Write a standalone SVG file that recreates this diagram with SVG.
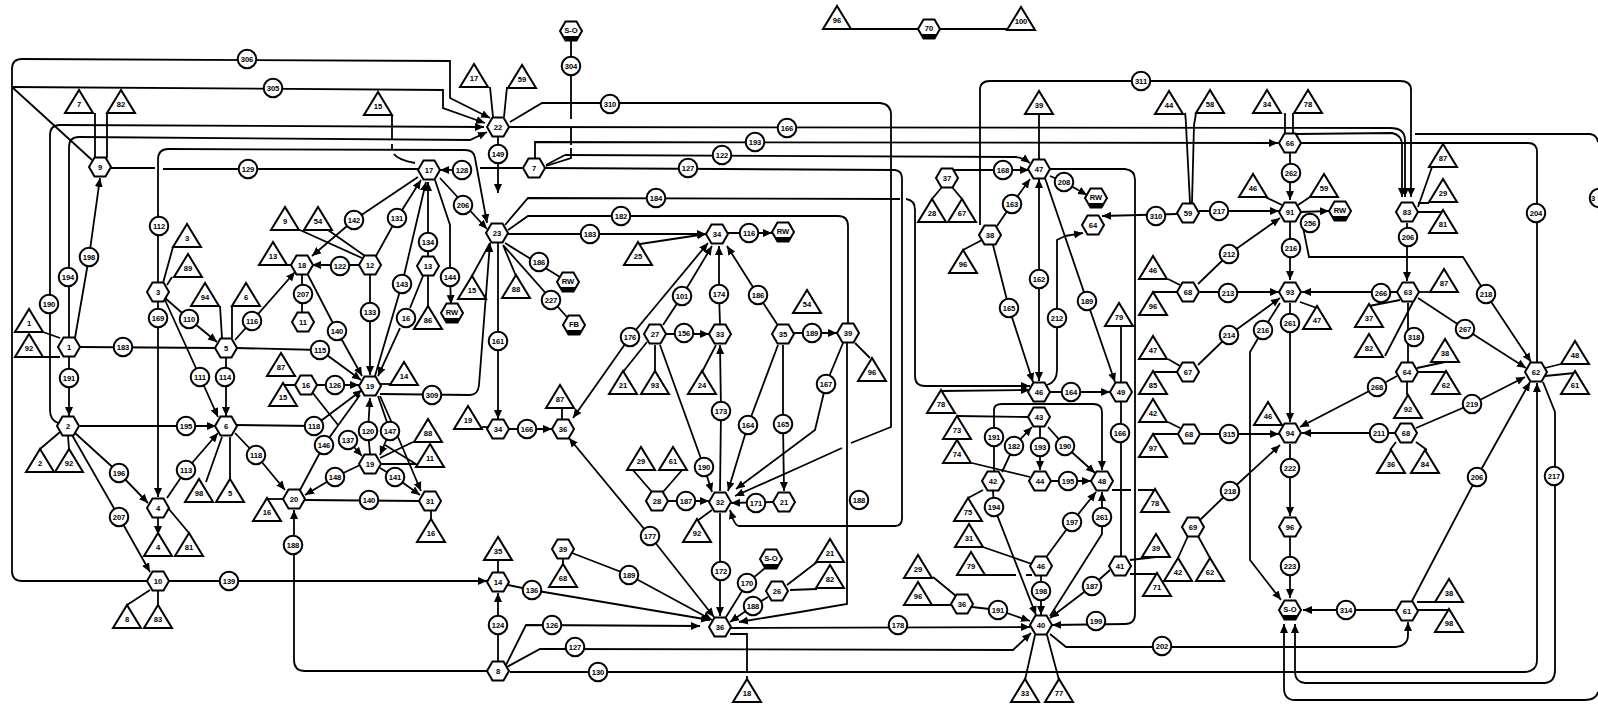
<svg xmlns="http://www.w3.org/2000/svg" width="1598" height="704" viewBox="0 0 1598 704">
<style>
text{font-family:"Liberation Sans",Arial,sans-serif;font-size:7.6px;font-weight:bold;text-anchor:middle;fill:#000}
#connectors path{fill:none;stroke:#000;stroke-width:1.8}
#connectors path.a{marker-end:url(#ar)}
#connectors path.b{marker-end:url(#ar);marker-start:url(#ars)}
.s{fill:#fff;stroke:#000;stroke-width:2}
</style>
<defs>
<marker id="ar" markerUnits="userSpaceOnUse" markerWidth="10" markerHeight="10" refX="9" refY="5" orient="auto"><path d="M0 1L9 5L0 9Z" fill="#000"/></marker>
<marker id="ars" markerUnits="userSpaceOnUse" markerWidth="10" markerHeight="10" refX="1" refY="5" orient="auto"><path d="M10 1L1 5L10 9Z" fill="#000"/></marker>
<circle id="ci" class="s" r="9.3"/>
<polygon id="he" class="s" points="-11,0 -5.5,-9.5 5.5,-9.5 11,0 5.5,9.5 -5.5,9.5"/>
<g id="hb"><polygon class="s" points="-11,0 -5.5,-9.5 5.5,-9.5 11,0 5.5,9.5 -5.5,9.5"/><polygon points="-8,5 8,5 5.5,9.5 -5.5,9.5" fill="#000"/></g>
<polygon id="tr" class="s" points="0,-23 -14,0 14,0"/>
</defs>
<g id="connectors">
<path class="a" d="M158 581H22Q12 581 12 571V69Q12 59 22 59L450 61V98L490 118"/>
<path class="a" d="M12 87L443 90V108L485 123"/>
<path d="M12 87L92 160"/>
<path class="a" d="M58 423Q50 420 50 410V135Q50 125 60 125L484 127"/>
<path class="a" d="M69 337V147Q69 137 79 137L470 140L487 132"/>
<path class="a" d="M158 282V160Q158 149 168 149L465 150Q474 150 475 158L487 223"/>
<path class="a" d="M75 338L89 257L100 178"/>
<path d="M95 113V158M107 113V158"/>
<path d="M110 168H155M163 169H418"/>
<path d="M480 168H522"/>
<path class="a" d="M455 170H440"/>
<path d="M490 87L493 117M507 87L504 117"/>
<path d="M1265 197L1282 205M1310 197L1298 205"/>
<path class="a" d="M1300 212L1329 211"/>
<path d="M1545 368L1561 364M1545 376L1575 373"/>
<path d="M392 115V140M392 144V149M394 154Q398 160 415 163"/>
<path class="a" d="M535 158V142L1278 143"/>
<path class="a" d="M509 127L1390 128Q1405 128 1405 140V197"/>
<path d="M546 165L565 155"/>
<path class="a" d="M565 155L1015 157Q1022 157 1030 163"/>
<path class="a" d="M545 168L895 170Q902 171 902 178V518Q902 526 895 526H739Q736 526 733 519L730 510"/>
<path d="M510 122L542 103H880Q891 104 891 115V427L851 443M842 448L800 467"/>
<path class="a" d="M800 467L735 496"/>
<path d="M571 40V119M571 128V145M571 148V158L546 166"/>
<path class="a" d="M498 137V193"/>
<path d="M505 225L528 198L900 199M906 199Q915 200 915 210V376Q915 386 925 386"/>
<path class="a" d="M925 386H1030"/>
<path d="M508 230L528 216H838Q848 216 848 226V323"/>
<path class="a" d="M508 234H706"/>
<path class="a" d="M728 233H772"/>
<path d="M505 243L568 282M503 245L574 325M472 276L490 243M516 276L503 245"/>
<path class="a" d="M498 243V419"/>
<path class="a" d="M380 394L470 395Q478 395 479 385L490 243"/>
<path class="a" d="M440 178L487 229"/>
<path class="a" d="M418 177L354 220L312 256"/>
<path class="a" d="M376 256L397 218L421 180"/>
<path class="a" d="M375 376L402 284L426 182"/>
<path class="a" d="M428 256V182"/>
<path d="M428 306V276M410 308L423 276"/>
<path class="a" d="M400 328L378 376"/>
<path class="a" d="M435 180L450 225V277L451 304"/>
<path d="M300 230L362 258M328 230L365 256"/>
<path class="a" d="M360 265H312"/>
<path class="a" d="M370 275V375"/>
<path d="M302 275V322M287 265H292"/>
<path class="a" d="M308 275L337 331L362 376"/>
<path class="a" d="M235 340L252 321L295 272"/>
<path class="a" d="M236 348L320 350L361 380"/>
<path class="a" d="M226 358V416"/>
<path d="M220 306L222 338M232 306V338"/>
<path class="a" d="M165 298L189 319L217 342"/>
<path class="a" d="M165 300L200 377L218 417"/>
<path class="a" d="M158 302V497"/>
<path d="M163 283L173 247M172 277L167 285"/>
<path d="M80 347L216 348M43 332L60 338M43 357H60M14 332H20M14 357H20"/>
<path class="a" d="M69 357V416"/>
<path class="a" d="M80 426H216"/>
<path class="a" d="M236 425L314 426L362 390"/>
<path class="a" d="M235 433L256 455L285 490"/>
<path class="a" d="M167 498L186 470L218 433"/>
<path d="M206 482L222 437M230 482V437M40 449L60 432M69 449L68 436"/>
<path class="a" d="M75 433L119 473L148 503"/>
<path class="a" d="M72 435L119 517L150 572"/>
<path class="a" d="M158 518V535"/>
<path d="M168 508L189 533M150 590L127 605M158 590V605"/>
<path class="a" d="M168 581H487"/>
<path d="M267 499H285"/>
<path class="a" d="M360 465L335 477L305 495"/>
<path d="M305 500L420 501M431 510V519"/>
<path class="a" d="M498 671H305Q294 671 294 660L294 510"/>
<path d="M296 376H281M296 385H283"/>
<path class="a" d="M316 385H359"/>
<path d="M312 392L338 425"/>
<path class="a" d="M345 437L362 456"/>
<path d="M360 395L324 445L300 490"/>
<path class="a" d="M370 454L368 431L370 398"/>
<path class="a" d="M378 396L390 431L380 455"/>
<path d="M380 458L413 442M382 464H416L385 445"/>
<path class="a" d="M380 468L395 477L420 495"/>
<path class="a" d="M380 396L395 430L421 491"/>
<path d="M380 384H392"/>
<path d="M498 560V572"/>
<path class="a" d="M508 585L532 590L710 620"/>
<path class="a" d="M498 661V593"/>
<path class="a" d="M506 665L526 625L700 626"/>
<path class="a" d="M505 668L540 649L1013 650L1031 633"/>
<path class="a" d="M510 672H1525Q1537 671 1537 660V383"/>
<path class="a" d="M572 553L629 575L712 620"/>
<path d="M563 564V558"/>
<path class="b" d="M569 438L650 536L714 617"/>
<path class="b" d="M573 418L630 337L708 243"/>
<path class="a" d="M663 325L682 296L712 246"/>
<path class="a" d="M720 324L719 294V246"/>
<path class="a" d="M777 324L758 295L727 246"/>
<path class="a" d="M640 244L706 234"/>
<path class="a" d="M666 334H709"/>
<path d="M647 342L623 372M655 345V372M702 372L716 345"/>
<path class="a" d="M660 345L704 467L712 492"/>
<path class="a" d="M720 491L721 411L720 345"/>
<path class="a" d="M778 345L748 425L728 491"/>
<path class="a" d="M783 345V424L784 491"/>
<path class="a" d="M843 343L826 384L815 430L736 489"/>
<path class="a" d="M794 333H837"/>
<path d="M855 343L870 358"/>
<path d="M632 469L652 492M683 469L663 492"/>
<path class="a" d="M668 501H709"/>
<path class="a" d="M720 513V616"/>
<path d="M712 510L697 521"/>
<path class="a" d="M773 502L731 503"/>
<path d="M847 343V604L800 612"/>
<path class="a" d="M800 612L739 622"/>
<path d="M787 585L817 562M790 590L817 589"/>
<path class="a" d="M768 597L753 606L730 622"/>
<path d="M765 568L747 583L726 617"/>
<path d="M730 634H747V672M747 676V680"/>
<path class="a" d="M731 628L1030 627"/>
<path d="M496 427H482"/>
<path class="a" d="M509 429H552"/>
<path d="M562 420V408"/>
<path class="a" d="M943 170H1029"/>
<path d="M932 199L942 187M962 199L952 187"/>
<path class="a" d="M997 226L1012 204L1030 179"/>
<path d="M963 250L982 240"/>
<path class="a" d="M993 245L1009 308L1033 382"/>
<path class="b" d="M1039 179V381"/>
<path d="M1047 385Q1057 382 1057 370V240L1065 236"/>
<path class="a" d="M1065 236L1083 233"/>
<path class="a" d="M1045 178L1087 301L1115 382"/>
<path class="a" d="M1050 176L1064 182L1087 195"/>
<path d="M1039 114V160"/>
<path class="a" d="M1050 169H1125Q1135 170 1135 180V614Q1135 624 1125 624L1052 625"/>
<path class="a" d="M1177 214L1102 216"/>
<path class="a" d="M1199 211H1279"/>
<path d="M1185 113Q1186 120 1186 125L1190 203M1196 113Q1195 120 1194 125L1192 203"/>
<path class="a" d="M980 225V90Q980 81 990 81H1400Q1411 81 1411 90V197"/>
<path class="a" d="M1198 284L1229 254L1280 218"/>
<path class="a" d="M1200 292H1279"/>
<path class="a" d="M1198 365L1229 335L1280 298"/>
<path class="a" d="M1201 434H1279"/>
<path d="M1168 279L1180 285M1153 292H1178M1168 359L1180 366M1153 372H1178M1168 422L1180 428M1153 434H1178"/>
<path class="a" d="M1290 222V280"/>
<path class="a" d="M1302 222L1309 257H1463L1486 294L1531 362"/>
<path class="a" d="M1280 303L1263 330L1250 352V560L1281 600"/>
<path class="a" d="M1290 303V422"/>
<path d="M1300 302L1317 308"/>
<path class="a" d="M1397 292H1302"/>
<path d="M1400 300L1369 306M1413 302L1385 356"/>
<path d="M1408 303V362"/>
<path class="a" d="M1418 298L1465 329L1526 368"/>
<path d="M1418 292H1444"/>
<path class="a" d="M1290 153V200"/>
<path class="a" d="M1407 223V281"/>
<path d="M1418 207L1432 167M1418 203H1429M1418 212H1443"/>
<path d="M1285 113V134M1293 113V134"/>
<path class="a" d="M1296 134L1392 133Q1402 135 1402 145V197"/>
<path d="M1301 143H1528Q1537 143 1537 152V362"/>
<path class="a" d="M1415 134H1590Q1597 135 1598 142M1598 692Q1596 700 1585 700H1295Q1284 700 1284 688V624"/>
<path d="M1543 382L1555 412V476"/>
<path class="a" d="M1555 476V670Q1555 682 1545 683H1305Q1295 682 1295 672V624"/>
<path class="a" d="M1050 634L1066 647H1395Q1408 646 1408 635V622"/>
<path class="a" d="M1396 610H1303"/>
<path class="a" d="M1412 601L1477 477L1530 382"/>
<path class="a" d="M1290 444V516"/>
<path class="a" d="M1290 537V598"/>
<path class="a" d="M1397 376L1377 387L1300 427"/>
<path d="M1417 368L1445 362M1417 372H1446M1407 382V395"/>
<path class="a" d="M1395 433H1302"/>
<path class="a" d="M1416 428L1472 404L1525 377"/>
<path d="M1396 442L1390 450M1416 442L1427 450"/>
<path class="a" d="M1200 520L1230 491L1280 445"/>
<path d="M1188 536L1178 558M1198 536L1210 558"/>
<path d="M1275 425H1280M1417 602H1435M1418 610H1449V612"/>
<path class="a" d="M1048 392H1110"/>
<path d="M1121 382V326M1121 402V556"/>
<path d="M1130 560L1156 557M1130 574H1157"/>
<path class="a" d="M1110 570L1092 586L1050 618"/>
<path class="a" d="M941 391L1030 390"/>
<path d="M1028 417L957 416"/>
<path d="M994 471V410Q994 404 1002 404H1093Q1102 404 1102 412"/>
<path class="a" d="M1102 412V470"/>
<path class="a" d="M1002 472L1014 446L1032 427"/>
<path class="a" d="M1040 427V470"/>
<path class="a" d="M1048 427L1065 446L1095 473"/>
<path class="a" d="M1051 481H1091"/>
<path d="M972 463L1030 477"/>
<path d="M983 490L968 498"/>
<path class="a" d="M993 491L994 507L1036 615"/>
<path class="a" d="M1047 556L1072 522L1096 492"/>
<path class="a" d="M1050 616L1102 534V492"/>
<path d="M1112 490H1131M1138 490H1155"/>
<path class="a" d="M1041 576V615"/>
<path d="M980 546L1032 564M985 575H1016M1026 575H1032"/>
<path d="M933 577L956 596M932 605H952"/>
<path class="a" d="M972 607L998 610L1030 621"/>
<path d="M1035 635L1025 680M1047 635L1059 680"/>
<path d="M837 29H1021"/>
</g>
<g id="n1" transform="translate(837,29)"><use href="#tr"/><text y="-6">96</text></g>
<g id="n2" transform="translate(1021,30)"><use href="#tr"/><text y="-6">100</text></g>
<g id="n3" transform="translate(79,113)"><use href="#tr"/><text y="-6">7</text></g>
<g id="n4" transform="translate(121,113)"><use href="#tr"/><text y="-6">82</text></g>
<g id="n5" transform="translate(378,115)"><use href="#tr"/><text y="-6">15</text></g>
<g id="n6" transform="translate(285,230)"><use href="#tr"/><text y="-6">9</text></g>
<g id="n7" transform="translate(318,230)"><use href="#tr"/><text y="-6">54</text></g>
<g id="n8" transform="translate(187,247)"><use href="#tr"/><text y="-6">3</text></g>
<g id="n9" transform="translate(188,277)"><use href="#tr"/><text y="-6">89</text></g>
<g id="n10" transform="translate(205,306)"><use href="#tr"/><text y="-6">94</text></g>
<g id="n11" transform="translate(246,306)"><use href="#tr"/><text y="-6">6</text></g>
<g id="n12" transform="translate(273,265)"><use href="#tr"/><text y="-6">13</text></g>
<g id="n13" transform="translate(29,332)"><use href="#tr"/><text y="-6">1</text></g>
<g id="n14" transform="translate(29,357)"><use href="#tr"/><text y="-6">92</text></g>
<g id="n15" transform="translate(40,472)"><use href="#tr"/><text y="-6">2</text></g>
<g id="n16" transform="translate(69,472)"><use href="#tr"/><text y="-6">92</text></g>
<g id="n17" transform="translate(281,376)"><use href="#tr"/><text y="-6">87</text></g>
<g id="n18" transform="translate(283,406)"><use href="#tr"/><text y="-6">15</text></g>
<g id="n19" transform="translate(199,502)"><use href="#tr"/><text y="-6">98</text></g>
<g id="n20" transform="translate(230,502)"><use href="#tr"/><text y="-6">5</text></g>
<g id="n21" transform="translate(158,556)"><use href="#tr"/><text y="-6">4</text></g>
<g id="n22" transform="translate(189,556)"><use href="#tr"/><text y="-6">81</text></g>
<g id="n23" transform="translate(267,521)"><use href="#tr"/><text y="-6">16</text></g>
<g id="n24" transform="translate(127,628)"><use href="#tr"/><text y="-6">8</text></g>
<g id="n25" transform="translate(158,628)"><use href="#tr"/><text y="-6">83</text></g>
<g id="n26" transform="translate(404,385)"><use href="#tr"/><text y="-6">14</text></g>
<g id="n27" transform="translate(428,442)"><use href="#tr"/><text y="-6">88</text></g>
<g id="n28" transform="translate(430,467)"><use href="#tr"/><text y="-6">11</text></g>
<g id="n29" transform="translate(431,542)"><use href="#tr"/><text y="-6">16</text></g>
<g id="n30" transform="translate(428,329)"><use href="#tr"/><text y="-6">86</text></g>
<g id="n31" transform="translate(472,299)"><use href="#tr"/><text y="-6">15</text></g>
<g id="n32" transform="translate(516,298)"><use href="#tr"/><text y="-6">88</text></g>
<g id="n33" transform="translate(468,429)"><use href="#tr"/><text y="-6">19</text></g>
<g id="n34" transform="translate(560,408)"><use href="#tr"/><text y="-6">87</text></g>
<g id="n35" transform="translate(638,265)"><use href="#tr"/><text y="-6">25</text></g>
<g id="n36" transform="translate(623,394)"><use href="#tr"/><text y="-6">21</text></g>
<g id="n37" transform="translate(655,394)"><use href="#tr"/><text y="-6">93</text></g>
<g id="n38" transform="translate(702,394)"><use href="#tr"/><text y="-6">24</text></g>
<g id="n39" transform="translate(641,470)"><use href="#tr"/><text y="-6">29</text></g>
<g id="n40" transform="translate(673,470)"><use href="#tr"/><text y="-6">61</text></g>
<g id="n41" transform="translate(474,87)"><use href="#tr"/><text y="-6">17</text></g>
<g id="n42" transform="translate(522,88)"><use href="#tr"/><text y="-6">59</text></g>
<g id="n43" transform="translate(498,560)"><use href="#tr"/><text y="-6">35</text></g>
<g id="n44" transform="translate(563,587)"><use href="#tr"/><text y="-6">68</text></g>
<g id="n45" transform="translate(697,542)"><use href="#tr"/><text y="-6">92</text></g>
<g id="n46" transform="translate(747,702)"><use href="#tr"/><text y="-6">18</text></g>
<g id="n47" transform="translate(807,313)"><use href="#tr"/><text y="-6">54</text></g>
<g id="n48" transform="translate(872,381)"><use href="#tr"/><text y="-6">96</text></g>
<g id="n49" transform="translate(830,562)"><use href="#tr"/><text y="-6">21</text></g>
<g id="n50" transform="translate(830,588)"><use href="#tr"/><text y="-6">82</text></g>
<g id="n51" transform="translate(1039,114)"><use href="#tr"/><text y="-6">39</text></g>
<g id="n52" transform="translate(1169,114)"><use href="#tr"/><text y="-6">44</text></g>
<g id="n53" transform="translate(932,222)"><use href="#tr"/><text y="-6">28</text></g>
<g id="n54" transform="translate(962,222)"><use href="#tr"/><text y="-6">67</text></g>
<g id="n55" transform="translate(963,273)"><use href="#tr"/><text y="-6">96</text></g>
<g id="n56" transform="translate(1119,326)"><use href="#tr"/><text y="-6">79</text></g>
<g id="n57" transform="translate(941,413)"><use href="#tr"/><text y="-6">78</text></g>
<g id="n58" transform="translate(957,439)"><use href="#tr"/><text y="-6">73</text></g>
<g id="n59" transform="translate(957,463)"><use href="#tr"/><text y="-6">74</text></g>
<g id="n60" transform="translate(1155,512)"><use href="#tr"/><text y="-6">78</text></g>
<g id="n61" transform="translate(968,521)"><use href="#tr"/><text y="-6">75</text></g>
<g id="n62" transform="translate(969,547)"><use href="#tr"/><text y="-6">31</text></g>
<g id="n63" transform="translate(971,575)"><use href="#tr"/><text y="-6">79</text></g>
<g id="n64" transform="translate(1156,557)"><use href="#tr"/><text y="-6">39</text></g>
<g id="n65" transform="translate(1157,596)"><use href="#tr"/><text y="-6">71</text></g>
<g id="n66" transform="translate(918,578)"><use href="#tr"/><text y="-6">29</text></g>
<g id="n67" transform="translate(918,605)"><use href="#tr"/><text y="-6">96</text></g>
<g id="n68" transform="translate(1025,702)"><use href="#tr"/><text y="-6">33</text></g>
<g id="n69" transform="translate(1059,702)"><use href="#tr"/><text y="-6">77</text></g>
<g id="n70" transform="translate(1210,113)"><use href="#tr"/><text y="-6">58</text></g>
<g id="n71" transform="translate(1267,113)"><use href="#tr"/><text y="-6">34</text></g>
<g id="n72" transform="translate(1308,113)"><use href="#tr"/><text y="-6">78</text></g>
<g id="n73" transform="translate(1253,197)"><use href="#tr"/><text y="-6">46</text></g>
<g id="n74" transform="translate(1324,197)"><use href="#tr"/><text y="-6">59</text></g>
<g id="n75" transform="translate(1443,167)"><use href="#tr"/><text y="-6">87</text></g>
<g id="n76" transform="translate(1443,202)"><use href="#tr"/><text y="-6">29</text></g>
<g id="n77" transform="translate(1443,233)"><use href="#tr"/><text y="-6">81</text></g>
<g id="n78" transform="translate(1153,279)"><use href="#tr"/><text y="-6">46</text></g>
<g id="n79" transform="translate(1153,315)"><use href="#tr"/><text y="-6">96</text></g>
<g id="n80" transform="translate(1153,359)"><use href="#tr"/><text y="-6">47</text></g>
<g id="n81" transform="translate(1153,394)"><use href="#tr"/><text y="-6">85</text></g>
<g id="n82" transform="translate(1153,422)"><use href="#tr"/><text y="-6">42</text></g>
<g id="n83" transform="translate(1153,457)"><use href="#tr"/><text y="-6">97</text></g>
<g id="n84" transform="translate(1317,329)"><use href="#tr"/><text y="-6">47</text></g>
<g id="n85" transform="translate(1444,292)"><use href="#tr"/><text y="-6">87</text></g>
<g id="n86" transform="translate(1369,327)"><use href="#tr"/><text y="-6">37</text></g>
<g id="n87" transform="translate(1369,357)"><use href="#tr"/><text y="-6">82</text></g>
<g id="n88" transform="translate(1445,362)"><use href="#tr"/><text y="-6">38</text></g>
<g id="n89" transform="translate(1446,394)"><use href="#tr"/><text y="-6">62</text></g>
<g id="n90" transform="translate(1408,418)"><use href="#tr"/><text y="-6">92</text></g>
<g id="n91" transform="translate(1575,364)"><use href="#tr"/><text y="-6">48</text></g>
<g id="n92" transform="translate(1575,394)"><use href="#tr"/><text y="-6">61</text></g>
<g id="n93" transform="translate(1268,425)"><use href="#tr"/><text y="-6">46</text></g>
<g id="n94" transform="translate(1391,473)"><use href="#tr"/><text y="-6">36</text></g>
<g id="n95" transform="translate(1425,473)"><use href="#tr"/><text y="-6">84</text></g>
<g id="n96" transform="translate(1449,602)"><use href="#tr"/><text y="-6">38</text></g>
<g id="n97" transform="translate(1449,632)"><use href="#tr"/><text y="-6">98</text></g>
<g id="n98" transform="translate(1178,581)"><use href="#tr"/><text y="-6">42</text></g>
<g id="n99" transform="translate(1210,581)"><use href="#tr"/><text y="-6">62</text></g>
<g id="n100" transform="translate(100,167)"><use href="#he"/><text y="3">9</text></g>
<g id="n101" transform="translate(69,347)"><use href="#he"/><text y="3">1</text></g>
<g id="n102" transform="translate(68,426)"><use href="#he"/><text y="3">2</text></g>
<g id="n103" transform="translate(158,292)"><use href="#he"/><text y="3">3</text></g>
<g id="n104" transform="translate(226,348)"><use href="#he"/><text y="3">5</text></g>
<g id="n105" transform="translate(226,426)"><use href="#he"/><text y="3">6</text></g>
<g id="n106" transform="translate(302,265)"><use href="#he"/><text y="3">18</text></g>
<g id="n107" transform="translate(370,265)"><use href="#he"/><text y="3">12</text></g>
<g id="n108" transform="translate(303,322)"><use href="#he"/><text y="3">11</text></g>
<g id="n109" transform="translate(306,385)"><use href="#he"/><text y="3">16</text></g>
<g id="n110" transform="translate(370,386)"><use href="#he"/><text y="3">19</text></g>
<g id="n111" transform="translate(370,464)"><use href="#he"/><text y="3">19</text></g>
<g id="n112" transform="translate(158,508)"><use href="#he"/><text y="3">4</text></g>
<g id="n113" transform="translate(158,581)"><use href="#he"/><text y="3">10</text></g>
<g id="n114" transform="translate(294,499)"><use href="#he"/><text y="3">20</text></g>
<g id="n115" transform="translate(430,501)"><use href="#he"/><text y="3">31</text></g>
<g id="n116" transform="translate(428,266)"><use href="#he"/><text y="3">13</text></g>
<g id="n117" transform="translate(498,429)"><use href="#he"/><text y="3">34</text></g>
<g id="n118" transform="translate(563,429)"><use href="#he"/><text y="3">36</text></g>
<g id="n119" transform="translate(655,334)"><use href="#he"/><text y="3">27</text></g>
<g id="n120" transform="translate(720,334)"><use href="#he"/><text y="3">33</text></g>
<g id="n121" transform="translate(783,334)"><use href="#he"/><text y="3">35</text></g>
<g id="n122" transform="translate(717,234)"><use href="#he"/><text y="3">34</text></g>
<g id="n123" transform="translate(498,127)"><use href="#he"/><text y="3">22</text></g>
<g id="n124" transform="translate(534,168)"><use href="#he"/><text y="3">7</text></g>
<g id="n125" transform="translate(429,170)"><use href="#he"/><text y="3">17</text></g>
<g id="n126" transform="translate(497,233)"><use href="#he"/><text y="3">23</text></g>
<g id="n127" transform="translate(498,582)"><use href="#he"/><text y="3">14</text></g>
<g id="n128" transform="translate(498,671)"><use href="#he"/><text y="3">8</text></g>
<g id="n129" transform="translate(563,549)"><use href="#he"/><text y="3">39</text></g>
<g id="n130" transform="translate(720,627)"><use href="#he"/><text y="3">36</text></g>
<g id="n131" transform="translate(777,591)"><use href="#he"/><text y="3">26</text></g>
<g id="n132" transform="translate(720,502)"><use href="#he"/><text y="3">32</text></g>
<g id="n133" transform="translate(657,501)"><use href="#he"/><text y="3">28</text></g>
<g id="n134" transform="translate(784,502)"><use href="#he"/><text y="3">21</text></g>
<g id="n135" transform="translate(1039,169)"><use href="#he"/><text y="3">47</text></g>
<g id="n136" transform="translate(947,178)"><use href="#he"/><text y="3">37</text></g>
<g id="n137" transform="translate(1093,225)"><use href="#he"/><text y="3">64</text></g>
<g id="n138" transform="translate(1188,213)"><use href="#he"/><text y="3">59</text></g>
<g id="n139" transform="translate(990,235)"><use href="#he"/><text y="3">38</text></g>
<g id="n140" transform="translate(1039,392)"><use href="#he"/><text y="3">46</text></g>
<g id="n141" transform="translate(1121,392)"><use href="#he"/><text y="3">49</text></g>
<g id="n142" transform="translate(1039,417)"><use href="#he"/><text y="3">43</text></g>
<g id="n143" transform="translate(993,481)"><use href="#he"/><text y="3">42</text></g>
<g id="n144" transform="translate(1040,481)"><use href="#he"/><text y="3">44</text></g>
<g id="n145" transform="translate(1102,481)"><use href="#he"/><text y="3">48</text></g>
<g id="n146" transform="translate(848,333)"><use href="#he"/><text y="3">39</text></g>
<g id="n147" transform="translate(1041,566)"><use href="#he"/><text y="3">46</text></g>
<g id="n148" transform="translate(1120,566)"><use href="#he"/><text y="3">41</text></g>
<g id="n149" transform="translate(1041,625)"><use href="#he"/><text y="3">40</text></g>
<g id="n150" transform="translate(962,604)"><use href="#he"/><text y="3">36</text></g>
<g id="n151" transform="translate(1290,212)"><use href="#he"/><text y="3">91</text></g>
<g id="n152" transform="translate(1290,143)"><use href="#he"/><text y="3">66</text></g>
<g id="n153" transform="translate(1407,212)"><use href="#he"/><text y="3">83</text></g>
<g id="n154" transform="translate(1290,292)"><use href="#he"/><text y="3">93</text></g>
<g id="n155" transform="translate(1408,292)"><use href="#he"/><text y="3">63</text></g>
<g id="n156" transform="translate(1407,372)"><use href="#he"/><text y="3">64</text></g>
<g id="n157" transform="translate(1536,372)"><use href="#he"/><text y="3">62</text></g>
<g id="n158" transform="translate(1406,433)"><use href="#he"/><text y="3">68</text></g>
<g id="n159" transform="translate(1290,433)"><use href="#he"/><text y="3">94</text></g>
<g id="n160" transform="translate(1290,527)"><use href="#he"/><text y="3">96</text></g>
<g id="n161" transform="translate(1407,611)"><use href="#he"/><text y="3">61</text></g>
<g id="n162" transform="translate(1188,292)"><use href="#he"/><text y="3">68</text></g>
<g id="n163" transform="translate(1188,372)"><use href="#he"/><text y="3">67</text></g>
<g id="n164" transform="translate(1189,434)"><use href="#he"/><text y="3">68</text></g>
<g id="n165" transform="translate(1193,527)"><use href="#he"/><text y="3">69</text></g>
<g id="n166" transform="translate(571,31)"><use href="#hb"/><text y="2">S-O</text></g>
<g id="n167" transform="translate(929,29)"><use href="#hb"/><text y="2">70</text></g>
<g id="n168" transform="translate(452,313)"><use href="#hb"/><text y="2">RW</text></g>
<g id="n169" transform="translate(568,282)"><use href="#hb"/><text y="2">RW</text></g>
<g id="n170" transform="translate(574,325)"><use href="#hb"/><text y="2">FB</text></g>
<g id="n171" transform="translate(783,232)"><use href="#hb"/><text y="2">RW</text></g>
<g id="n172" transform="translate(771,559)"><use href="#hb"/><text y="2">S-O</text></g>
<g id="n173" transform="translate(1096,198)"><use href="#hb"/><text y="2">RW</text></g>
<g id="n174" transform="translate(1340,211)"><use href="#hb"/><text y="2">RW</text></g>
<g id="n175" transform="translate(1290,610)"><use href="#hb"/><text y="2">S-O</text></g>
<g id="n176" transform="translate(247,59)"><use href="#ci"/><text y="3">306</text></g>
<g id="n177" transform="translate(273,88)"><use href="#ci"/><text y="3">305</text></g>
<g id="n178" transform="translate(248,169)"><use href="#ci"/><text y="3">129</text></g>
<g id="n179" transform="translate(159,226)"><use href="#ci"/><text y="3">112</text></g>
<g id="n180" transform="translate(89,257)"><use href="#ci"/><text y="3">198</text></g>
<g id="n181" transform="translate(68,277)"><use href="#ci"/><text y="3">194</text></g>
<g id="n182" transform="translate(49,304)"><use href="#ci"/><text y="3">190</text></g>
<g id="n183" transform="translate(123,347)"><use href="#ci"/><text y="3">183</text></g>
<g id="n184" transform="translate(69,378)"><use href="#ci"/><text y="3">191</text></g>
<g id="n185" transform="translate(158,318)"><use href="#ci"/><text y="3">169</text></g>
<g id="n186" transform="translate(189,319)"><use href="#ci"/><text y="3">110</text></g>
<g id="n187" transform="translate(252,321)"><use href="#ci"/><text y="3">116</text></g>
<g id="n188" transform="translate(303,294)"><use href="#ci"/><text y="3">207</text></g>
<g id="n189" transform="translate(340,266)"><use href="#ci"/><text y="3">122</text></g>
<g id="n190" transform="translate(370,312)"><use href="#ci"/><text y="3">133</text></g>
<g id="n191" transform="translate(337,331)"><use href="#ci"/><text y="3">140</text></g>
<g id="n192" transform="translate(320,350)"><use href="#ci"/><text y="3">115</text></g>
<g id="n193" transform="translate(200,377)"><use href="#ci"/><text y="3">111</text></g>
<g id="n194" transform="translate(225,377)"><use href="#ci"/><text y="3">114</text></g>
<g id="n195" transform="translate(186,426)"><use href="#ci"/><text y="3">195</text></g>
<g id="n196" transform="translate(314,426)"><use href="#ci"/><text y="3">118</text></g>
<g id="n197" transform="translate(335,385)"><use href="#ci"/><text y="3">126</text></g>
<g id="n198" transform="translate(256,455)"><use href="#ci"/><text y="3">118</text></g>
<g id="n199" transform="translate(186,470)"><use href="#ci"/><text y="3">113</text></g>
<g id="n200" transform="translate(324,445)"><use href="#ci"/><text y="3">146</text></g>
<g id="n201" transform="translate(348,440)"><use href="#ci"/><text y="3">137</text></g>
<g id="n202" transform="translate(368,431)"><use href="#ci"/><text y="3">120</text></g>
<g id="n203" transform="translate(390,431)"><use href="#ci"/><text y="3">147</text></g>
<g id="n204" transform="translate(395,477)"><use href="#ci"/><text y="3">141</text></g>
<g id="n205" transform="translate(119,473)"><use href="#ci"/><text y="3">196</text></g>
<g id="n206" transform="translate(335,477)"><use href="#ci"/><text y="3">148</text></g>
<g id="n207" transform="translate(369,500)"><use href="#ci"/><text y="3">140</text></g>
<g id="n208" transform="translate(293,545)"><use href="#ci"/><text y="3">188</text></g>
<g id="n209" transform="translate(119,517)"><use href="#ci"/><text y="3">207</text></g>
<g id="n210" transform="translate(229,581)"><use href="#ci"/><text y="3">139</text></g>
<g id="n211" transform="translate(354,220)"><use href="#ci"/><text y="3">142</text></g>
<g id="n212" transform="translate(397,218)"><use href="#ci"/><text y="3">131</text></g>
<g id="n213" transform="translate(402,284)"><use href="#ci"/><text y="3">143</text></g>
<g id="n214" transform="translate(428,242)"><use href="#ci"/><text y="3">134</text></g>
<g id="n215" transform="translate(406,318)"><use href="#ci"/><text y="3">16</text></g>
<g id="n216" transform="translate(450,277)"><use href="#ci"/><text y="3">144</text></g>
<g id="n217" transform="translate(539,262)"><use href="#ci"/><text y="3">186</text></g>
<g id="n218" transform="translate(551,300)"><use href="#ci"/><text y="3">227</text></g>
<g id="n219" transform="translate(498,341)"><use href="#ci"/><text y="3">161</text></g>
<g id="n220" transform="translate(527,429)"><use href="#ci"/><text y="3">166</text></g>
<g id="n221" transform="translate(432,395)"><use href="#ci"/><text y="3">309</text></g>
<g id="n222" transform="translate(630,337)"><use href="#ci"/><text y="3">176</text></g>
<g id="n223" transform="translate(684,333)"><use href="#ci"/><text y="3">156</text></g>
<g id="n224" transform="translate(682,296)"><use href="#ci"/><text y="3">101</text></g>
<g id="n225" transform="translate(719,294)"><use href="#ci"/><text y="3">174</text></g>
<g id="n226" transform="translate(758,295)"><use href="#ci"/><text y="3">186</text></g>
<g id="n227" transform="translate(721,411)"><use href="#ci"/><text y="3">173</text></g>
<g id="n228" transform="translate(748,425)"><use href="#ci"/><text y="3">164</text></g>
<g id="n229" transform="translate(783,424)"><use href="#ci"/><text y="3">165</text></g>
<g id="n230" transform="translate(704,467)"><use href="#ci"/><text y="3">190</text></g>
<g id="n231" transform="translate(749,233)"><use href="#ci"/><text y="3">116</text></g>
<g id="n232" transform="translate(571,66)"><use href="#ci"/><text y="3">304</text></g>
<g id="n233" transform="translate(610,104)"><use href="#ci"/><text y="3">310</text></g>
<g id="n234" transform="translate(498,154)"><use href="#ci"/><text y="3">149</text></g>
<g id="n235" transform="translate(462,170)"><use href="#ci"/><text y="3">128</text></g>
<g id="n236" transform="translate(463,205)"><use href="#ci"/><text y="3">206</text></g>
<g id="n237" transform="translate(656,198)"><use href="#ci"/><text y="3">184</text></g>
<g id="n238" transform="translate(621,216)"><use href="#ci"/><text y="3">182</text></g>
<g id="n239" transform="translate(590,234)"><use href="#ci"/><text y="3">183</text></g>
<g id="n240" transform="translate(688,168)"><use href="#ci"/><text y="3">127</text></g>
<g id="n241" transform="translate(722,155)"><use href="#ci"/><text y="3">122</text></g>
<g id="n242" transform="translate(755,142)"><use href="#ci"/><text y="3">193</text></g>
<g id="n243" transform="translate(787,128)"><use href="#ci"/><text y="3">166</text></g>
<g id="n244" transform="translate(532,590)"><use href="#ci"/><text y="3">136</text></g>
<g id="n245" transform="translate(498,625)"><use href="#ci"/><text y="3">124</text></g>
<g id="n246" transform="translate(552,625)"><use href="#ci"/><text y="3">126</text></g>
<g id="n247" transform="translate(575,647)"><use href="#ci"/><text y="3">127</text></g>
<g id="n248" transform="translate(598,672)"><use href="#ci"/><text y="3">130</text></g>
<g id="n249" transform="translate(629,575)"><use href="#ci"/><text y="3">189</text></g>
<g id="n250" transform="translate(650,536)"><use href="#ci"/><text y="3">177</text></g>
<g id="n251" transform="translate(721,571)"><use href="#ci"/><text y="3">172</text></g>
<g id="n252" transform="translate(747,583)"><use href="#ci"/><text y="3">170</text></g>
<g id="n253" transform="translate(753,606)"><use href="#ci"/><text y="3">188</text></g>
<g id="n254" transform="translate(686,501)"><use href="#ci"/><text y="3">187</text></g>
<g id="n255" transform="translate(756,503)"><use href="#ci"/><text y="3">171</text></g>
<g id="n256" transform="translate(1141,81)"><use href="#ci"/><text y="3">311</text></g>
<g id="n257" transform="translate(1003,170)"><use href="#ci"/><text y="3">168</text></g>
<g id="n258" transform="translate(1064,182)"><use href="#ci"/><text y="3">208</text></g>
<g id="n259" transform="translate(1156,216)"><use href="#ci"/><text y="3">310</text></g>
<g id="n260" transform="translate(1012,204)"><use href="#ci"/><text y="3">163</text></g>
<g id="n261" transform="translate(1009,308)"><use href="#ci"/><text y="3">165</text></g>
<g id="n262" transform="translate(1039,279)"><use href="#ci"/><text y="3">162</text></g>
<g id="n263" transform="translate(1057,318)"><use href="#ci"/><text y="3">212</text></g>
<g id="n264" transform="translate(1087,301)"><use href="#ci"/><text y="3">189</text></g>
<g id="n265" transform="translate(1071,392)"><use href="#ci"/><text y="3">164</text></g>
<g id="n266" transform="translate(994,437)"><use href="#ci"/><text y="3">191</text></g>
<g id="n267" transform="translate(1014,446)"><use href="#ci"/><text y="3">182</text></g>
<g id="n268" transform="translate(1040,447)"><use href="#ci"/><text y="3">193</text></g>
<g id="n269" transform="translate(1065,446)"><use href="#ci"/><text y="3">190</text></g>
<g id="n270" transform="translate(1120,433)"><use href="#ci"/><text y="3">166</text></g>
<g id="n271" transform="translate(1068,481)"><use href="#ci"/><text y="3">195</text></g>
<g id="n272" transform="translate(812,333)"><use href="#ci"/><text y="3">189</text></g>
<g id="n273" transform="translate(826,384)"><use href="#ci"/><text y="3">167</text></g>
<g id="n274" transform="translate(994,507)"><use href="#ci"/><text y="3">194</text></g>
<g id="n275" transform="translate(1072,522)"><use href="#ci"/><text y="3">197</text></g>
<g id="n276" transform="translate(1102,517)"><use href="#ci"/><text y="3">261</text></g>
<g id="n277" transform="translate(1041,591)"><use href="#ci"/><text y="3">198</text></g>
<g id="n278" transform="translate(1092,586)"><use href="#ci"/><text y="3">187</text></g>
<g id="n279" transform="translate(1096,621)"><use href="#ci"/><text y="3">199</text></g>
<g id="n280" transform="translate(998,610)"><use href="#ci"/><text y="3">191</text></g>
<g id="n281" transform="translate(898,625)"><use href="#ci"/><text y="3">178</text></g>
<g id="n282" transform="translate(1162,646)"><use href="#ci"/><text y="3">202</text></g>
<g id="n283" transform="translate(859,500)"><use href="#ci"/><text y="3">188</text></g>
<g id="n284" transform="translate(1219,211)"><use href="#ci"/><text y="3">217</text></g>
<g id="n285" transform="translate(1291,173)"><use href="#ci"/><text y="3">262</text></g>
<g id="n286" transform="translate(1310,223)"><use href="#ci"/><text y="3">256</text></g>
<g id="n287" transform="translate(1408,237)"><use href="#ci"/><text y="3">206</text></g>
<g id="n288" transform="translate(1536,213)"><use href="#ci"/><text y="3">204</text></g>
<g id="n289" transform="translate(1291,248)"><use href="#ci"/><text y="3">216</text></g>
<g id="n290" transform="translate(1228,293)"><use href="#ci"/><text y="3">213</text></g>
<g id="n291" transform="translate(1229,254)"><use href="#ci"/><text y="3">212</text></g>
<g id="n292" transform="translate(1229,335)"><use href="#ci"/><text y="3">214</text></g>
<g id="n293" transform="translate(1263,330)"><use href="#ci"/><text y="3">216</text></g>
<g id="n294" transform="translate(1290,323)"><use href="#ci"/><text y="3">261</text></g>
<g id="n295" transform="translate(1381,293)"><use href="#ci"/><text y="3">266</text></g>
<g id="n296" transform="translate(1414,337)"><use href="#ci"/><text y="3">318</text></g>
<g id="n297" transform="translate(1377,387)"><use href="#ci"/><text y="3">268</text></g>
<g id="n298" transform="translate(1465,329)"><use href="#ci"/><text y="3">267</text></g>
<g id="n299" transform="translate(1486,294)"><use href="#ci"/><text y="3">218</text></g>
<g id="n300" transform="translate(1472,404)"><use href="#ci"/><text y="3">219</text></g>
<g id="n301" transform="translate(1379,433)"><use href="#ci"/><text y="3">211</text></g>
<g id="n302" transform="translate(1229,434)"><use href="#ci"/><text y="3">315</text></g>
<g id="n303" transform="translate(1290,468)"><use href="#ci"/><text y="3">222</text></g>
<g id="n304" transform="translate(1477,477)"><use href="#ci"/><text y="3">206</text></g>
<g id="n305" transform="translate(1554,476)"><use href="#ci"/><text y="3">217</text></g>
<g id="n306" transform="translate(1230,491)"><use href="#ci"/><text y="3">218</text></g>
<g id="n307" transform="translate(1290,566)"><use href="#ci"/><text y="3">223</text></g>
<g id="n308" transform="translate(1346,610)"><use href="#ci"/><text y="3">314</text></g>
<g id="n309" transform="translate(1599,198)"><use href="#ci"/><text x="-6" y="3">3</text></g>
</svg>
